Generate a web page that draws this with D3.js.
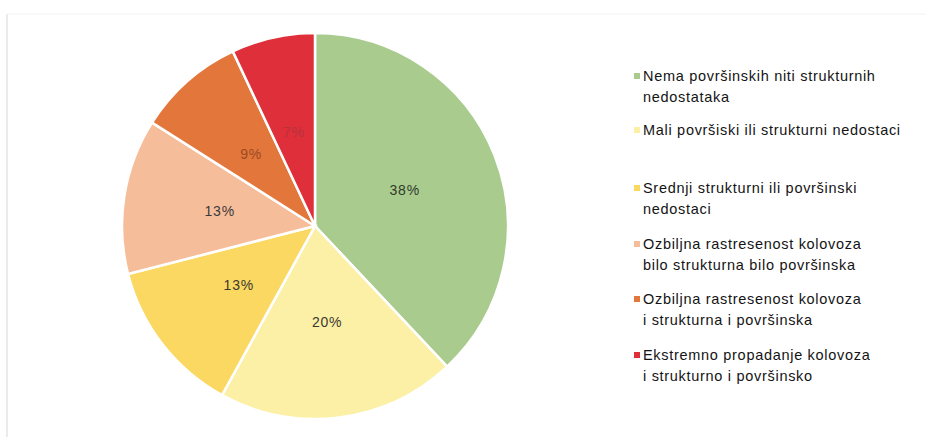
<!DOCTYPE html>
<html lang="hr">
<head>
<meta charset="utf-8">
<title>Stanje kolovoza</title>
<script src="https://cdn.jsdelivr.net/npm/d3@7"></script>
<style>
  body { margin: 0; background: #fff; }
  svg { display: block; }
</style>
</head>
<body>
<div id="chart"></div>
<script>
// categories and shares (percent)
var categories = [
  ["Nema površinskih niti strukturnih", "nedostataka"],
  ["Mali površiski ili strukturni nedostaci"],
  ["Srednji strukturni ili površinski", "nedostaci"],
  ["Ozbiljna rastresenost kolovoza", "bilo strukturna bilo površinska"],
  ["Ozbiljna rastresenost kolovoza", "i strukturna i površinska"],
  ["Ekstremno propadanje kolovoza", "i strukturno i površinsko"]
]
var values = [38, 20, 13, 13, 9, 7]
var colors = ["#a9cc8e", "#fcefa6", "#fbd862", "#f6bd9a", "#e3763b", "#de2f3a"]
var labelColors = ["#2f3a2c", "#3a3a30", "#3a3a30", "#3a3a3a", "#9a4a22", "#b8323c"]
var legendY = [76, 130, 188, 244, 299, 355]

var w = 926
var h = 437
var cx = 315
var cy = 226
var r = 193

var svg = d3.select("#chart")
  .append("svg")
  .attr("width", w)
  .attr("height", h)

// faint frame of the scanned page
svg.append("line")
  .attr("x1", 7).attr("x2", 7)
  .attr("y1", 14).attr("y2", h)
  .attr("stroke", "#e4e4e4")
  .attr("stroke-width", 1.5)
svg.append("line")
  .attr("x1", 7).attr("x2", w)
  .attr("y1", 14).attr("y2", 14)
  .attr("stroke", "#f2f2f2")
  .attr("stroke-width", 1)

var pie = d3.pie().sort(null).value(function(d) { return d })
var arc = d3.arc().innerRadius(0).outerRadius(r)
var labelArc = d3.arc().innerRadius(r * 0.98).outerRadius(r * 0.02)

var g = svg.append("g")
  .attr("transform", "translate(" + cx + "," + cy + ")")

var slices = pie(values)

g.selectAll("path")
  .data(slices)
  .enter()
  .append("path")
  .attr("d", arc)
  .attr("fill", function(d, i) { return colors[i] })
  .attr("stroke", "#fff")
  .attr("stroke-width", 2.5)

g.selectAll("text")
  .data(slices)
  .enter()
  .append("text")
  .attr("transform", function(d) { return "translate(" + labelArc.centroid(d) + ")" })
  .attr("text-anchor", "middle")
  .attr("dy", "0.35em")
  .style("font-family", "'Liberation Sans', Arial, sans-serif")
  .style("font-size", "14px")
  .style("letter-spacing", "0.8px")
  .attr("fill", function(d, i) { return labelColors[i] })
  .text(function(d) { return d.data + "%" })

// legend
var legend = svg.append("g")
  .selectAll("g")
  .data(categories)
  .enter()
  .append("g")
  .attr("transform", function(d, i) { return "translate(634," + legendY[i] + ")" })

legend.append("rect")
  .attr("x", 0)
  .attr("y", -3)
  .attr("width", 6)
  .attr("height", 6)
  .attr("fill", function(d, i) { return colors[i] })

legend.append("text")
  .attr("x", 9)
  .style("font-family", "'Liberation Sans', Arial, sans-serif")
  .style("font-size", "14.5px")
  .style("letter-spacing", "0.7px")
  .attr("fill", "#141414")
  .selectAll("tspan")
  .data(function(d) { return d })
  .enter()
  .append("tspan")
  .attr("x", 9)
  .attr("dy", function(d, i) { return i === 0 ? "0.35em" : "21px" })
  .text(function(d) { return d })
</script>
</body>
</html>
